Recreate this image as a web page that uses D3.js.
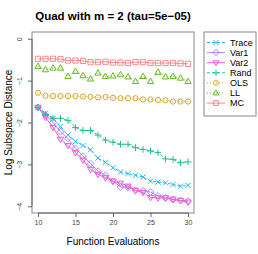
<!DOCTYPE html>
<html>
<head>
<meta charset="utf-8">
<script src="https://cdn.jsdelivr.net/npm/d3@7"></script>
<style>
  body { margin: 0; background: #fff; }
  text { font-family: "Liberation Sans", Arial, sans-serif; }
</style>
</head>
<body>
<div class="chart"></div>
<script>
// function evaluations
var evals = d3.range(10, 31);

var trace = [-1.64, -1.78, -1.90, -2.10, -2.30, -2.45, -2.55, -2.65, -2.85, -2.95, -3.08,
             -3.18, -3.22, -3.26, -3.30, -3.40, -3.42, -3.44, -3.48, -3.52, -3.50];
var var1  = [-1.64, -1.82, -2.00, -2.22, -2.38, -2.62, -2.80, -2.98, -3.16, -3.26, -3.40,
             -3.54, -3.55, -3.62, -3.63, -3.66, -3.75, -3.80, -3.84, -3.86, -3.88];
var var2  = [-1.64, -1.88, -2.12, -2.40, -2.55, -2.72, -2.90, -3.12, -3.24, -3.32, -3.40,
             -3.45, -3.52, -3.62, -3.67, -3.79, -3.80, -3.80, -3.83, -3.86, -3.90];
var rand  = [-1.64, -1.81, -1.90, -1.90, -1.95, -2.12, -2.19, -2.19, -2.30, -2.42, -2.47,
             -2.52, -2.52, -2.60, -2.64, -2.68, -2.72, -2.87, -2.88, -2.96, -2.94];
var ols   = [-1.29, -1.36, -1.37, -1.37, -1.37, -1.37, -1.38, -1.39, -1.40, -1.39, -1.41,
             -1.42, -1.42, -1.42, -1.45, -1.45, -1.46, -1.47, -1.50, -1.50, -1.50];
var ll    = [-0.66, -0.74, -0.70, -0.70, -0.90, -0.78, -0.88, -0.96, -0.82, -0.90, -0.89,
             -0.86, -0.91, -1.02, -0.90, -1.02, -0.80, -0.91, -0.90, -0.94, -1.02];
var mc    = [-0.48, -0.48, -0.48, -0.49, -0.52, -0.52, -0.53, -0.56, -0.56, -0.55, -0.57,
             -0.57, -0.58, -0.56, -0.56, -0.58, -0.58, -0.58, -0.58, -0.59, -0.60];

var seriesNames = ["Trace", "Var1", "Var2", "Rand", "OLS", "LL", "MC"];
var seriesValues = [trace, var1, var2, rand, ols, ll, mc];

var xTicks = [10, 15, 20, 25, 30];
var yTicks = [0, -1, -2, -3, -4];

var colors = ["#22BBE8", "#A987F5", "#F45AD8", "#22C48C", "#D4A52A", "#66BB22", "#F58A8A"];
var shapes = ["times", "diamond", "down", "cross", "circle", "triangle", "square"];
var dashes = ["3,2", null, null, "3,2", "1,2", "1,2", null];

var margin = { top: 32, right: 64, bottom: 41, left: 32 };
var width = 258 - margin.left - margin.right,
    height = 254 - margin.top - margin.bottom;

var svg = d3.select(".chart").append("svg")
    .attr("width", 258)
    .attr("height", 254);

var g = svg.append("g")
    .attr("transform", "translate(" + margin.left + "," + margin.top + ")");

// R style 4% padding
var x = d3.scaleLinear().domain([9.2, 30.8]).range([0, width]);
var y = d3.scaleLinear().domain([-4.16, 0.16]).range([height, 0]);

// box
g.append("rect")
    .attr("width", width).attr("height", height)
    .attr("fill", "none").attr("stroke", "#888").attr("stroke-width", 1);

var xAxis = d3.axisBottom(x).tickValues(xTicks).tickSize(4).tickPadding(3);
var yAxis = d3.axisLeft(y).tickValues(yTicks).tickSize(4).tickPadding(3)
    .tickFormat(function(d) { return d === 0 ? "0" : "\u2212" + Math.abs(d); });

var gx = g.append("g").attr("transform", "translate(0," + height + ")").call(xAxis);
var gy = g.append("g").call(yAxis);

[gx, gy].forEach(function(a) {
    a.select(".domain").remove();
    a.selectAll(".tick line").attr("stroke", "#666");
    a.selectAll(".tick text").attr("fill", "#444").style("font-size", "7px");
});
gx.append("line").attr("x1", x(10)).attr("x2", x(30)).attr("stroke", "#666");
gy.append("line").attr("y1", y(0)).attr("y2", y(-4)).attr("stroke", "#666");
gy.selectAll(".tick text")
    .attr("text-anchor", "middle")
    .attr("x", 0).attr("dy", 0)
    .attr("transform", "translate(-10,0) rotate(-90)");

function symbolPath(shape, size) {
    var s = size;
    switch (shape) {
        case "times": return "M" + (-s) + "," + (-s) + "L" + s + "," + s + "M" + (-s) + "," + s + "L" + s + "," + (-s);
        case "cross": return "M" + (-s * 1.3) + ",0L" + (s * 1.3) + ",0M0," + (-s * 1.3) + "L0," + (s * 1.3);
        case "diamond": return "M0," + (-s * 1.3) + "L" + (s * 1.3) + ",0L0," + (s * 1.3) + "L" + (-s * 1.3) + ",0Z";
        case "square": return "M" + (-s) + "," + (-s) + "h" + (2 * s) + "v" + (2 * s) + "h" + (-2 * s) + "Z";
        case "triangle": return "M0," + (-s * 1.3) + "L" + (s * 1.2) + "," + (s * 0.8) + "L" + (-s * 1.2) + "," + (s * 0.8) + "Z";
        case "down": return "M0," + (s * 1.3) + "L" + (s * 1.2) + "," + (-s * 0.8) + "L" + (-s * 1.2) + "," + (-s * 0.8) + "Z";
        case "circle": return d3.symbol(d3.symbolCircle, Math.PI * s * s)();
    }
}

var line = d3.line()
    .x(function(d, i) { return x(evals[i]); })
    .y(function(d) { return y(d); });

seriesValues.forEach(function(vals, k) {
    var sg = g.append("g");
    sg.append("path")
        .attr("d", line(vals))
        .attr("fill", "none")
        .attr("stroke", colors[k])
        .attr("stroke-width", 1)
        .attr("stroke-dasharray", dashes[k]);
    sg.selectAll("path.pt").data(vals).enter().append("path")
        .attr("class", "pt")
        .attr("transform", function(d, i) { return "translate(" + x(evals[i]) + "," + y(d) + ")"; })
        .attr("d", symbolPath(shapes[k], 2.6))
        .attr("fill", "none")
        .attr("stroke", colors[k])
        .attr("stroke-width", 1);
});

// title and axis labels
svg.append("text")
    .attr("x", 113).attr("y", 20)
    .attr("text-anchor", "middle")
    .style("font-size", "11.5px").style("font-weight", "bold")
    .text("Quad with m = 2 (tau=5e\u221205)");

svg.append("text")
    .attr("x", 113).attr("y", 245)
    .attr("text-anchor", "middle")
    .style("font-size", "10px")
    .text("Function Evaluations");

svg.append("text")
    .attr("transform", "translate(8," + (margin.top + height / 2) + ") rotate(-90)")
    .attr("text-anchor", "middle")
    .attr("dy", "0.35em")
    .style("font-size", "10px")
    .text("Log Subspace Distance");

// legend
var lg = svg.append("g").attr("transform", "translate(204,32)");
lg.append("rect")
    .attr("width", 52).attr("height", 84)
    .attr("fill", "#fff").attr("stroke", "#888");

seriesNames.forEach(function(name, k) {
    var ly = 10.5 + k * 10.1;
    lg.append("line")
        .attr("x1", 3).attr("x2", 21).attr("y1", ly).attr("y2", ly)
        .attr("stroke", colors[k]).attr("stroke-dasharray", dashes[k]);
    lg.append("path")
        .attr("transform", "translate(12," + ly + ")")
        .attr("d", symbolPath(shapes[k], 2.4))
        .attr("fill", "none").attr("stroke", colors[k]);
    lg.append("text")
        .attr("x", 26).attr("y", ly).attr("dy", "0.35em")
        .style("font-size", "9px")
        .text(name);
});
</script>
</body>
</html>
